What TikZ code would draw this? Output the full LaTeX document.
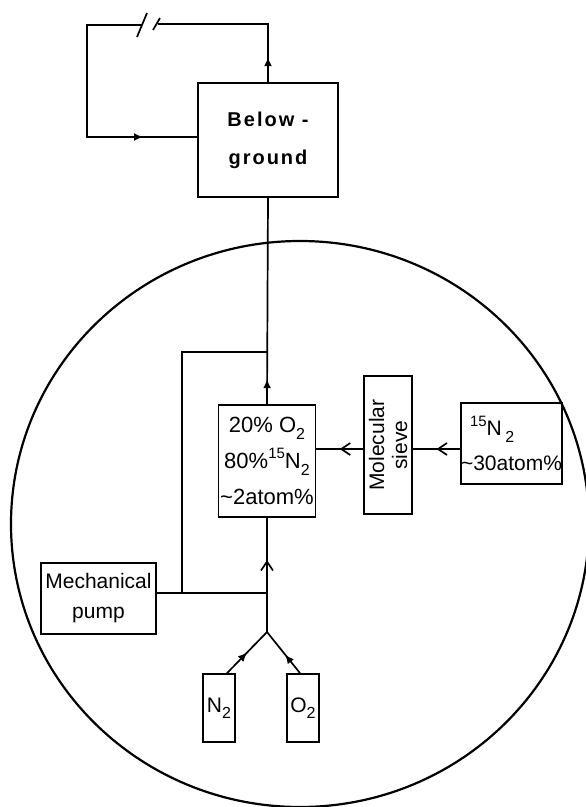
\documentclass[tikz,border=0pt]{standalone}
\usepackage{fontspec}
\setmainfont{Liberation Sans}
\usetikzlibrary{arrows.meta,decorations.markings}
\newcommand\mysub[1]{\raisebox{-0.3em}{\fontsize{16}{16}\selectfont #1}}
\newcommand\mysup[1]{\raisebox{0.45em}{\fontsize{15}{15}\selectfont #1}}
\begin{document}
\begin{tikzpicture}[x=1pt,y=-1pt,
  line width=1.7pt,
  box/.style={draw, rectangle, inner sep=0pt, align=center, font=\fontsize{21}{24}\selectfont},
  fillarrow/.style={postaction={decorate}, decoration={markings, mark=at position #1 with {\arrow{Latex[length=9pt,width=8pt]}}}},
  barbarrow/.style={postaction={decorate}, decoration={markings, mark=at position #1 with {\arrow{Straight Barb[length=9pt,width=12pt,line width=1.7pt]}}}}
]
\clip (0,0) rectangle (586,807);
% circle
\draw[line width=2.2pt] (300,524) ellipse [x radius=289, y radius=283];

% boxes
\node[box, minimum width=140pt, minimum height=114pt,
      font=\fontsize{20}{38}\selectfont\bfseries\addfontfeature{LetterSpace=10}] (bg) at (268,140) {Below -\\ground};
\node[box, minimum width=97pt, minimum height=112pt,
      font=\fontsize{22}{36}\selectfont] (mix) at (267,461)
      {20\% O\mysub{2}\\80\%\mysup{15}N\mysub{2}\\\textasciitilde2atom\%};
\node[box, rotate=90, minimum width=138pt, minimum height=48pt,
      font=\fontsize{21}{23}\selectfont] (sieve) at (388,445) {Molecular\\sieve};
\node[box, minimum width=95pt, minimum height=81pt, align=left,
      font=\fontsize{21}{35}\selectfont] (n15) at (511.5,443.5)
      {\hspace*{9pt}\mysup{15}N\,\mysub{2}\\\textasciitilde30atom\%};
\node[box, minimum width=115pt, minimum height=71pt,
      font=\fontsize{21}{30}\selectfont] (pump) at (98.5,598.5) {Mechanical\\pump};
\node[box, minimum width=32pt, minimum height=68pt] (n2) at (219,708) {N\mysub{2}};
\node[box, minimum width=32pt, minimum height=68pt] (o2) at (303,708) {O\mysub{2}};

% coordinates
\coordinate (jY) at (267,632);
\coordinate (jH) at (267,593);
\coordinate (pL) at (182,593);
\coordinate (pT) at (182,352);
\coordinate (mT) at (267,352);
\coordinate (ay) at (0,449);
\coordinate (tR) at (268,24);
\coordinate (brkR) at (158,24);
\coordinate (brkL) at (142,25);
\coordinate (tL) at (87,25);
\coordinate (bL) at (87,137);
\coordinate (s1a) at (137,37);
\coordinate (s1b) at (147,13);
\coordinate (s2a) at (153,30);
\coordinate (s2b) at (160,18);

% top loop
\draw[fillarrow=25pt] (bg.north) -- (tR) -- (brkR);
\draw (s1a) -- (s1b);
\draw (s2a) -- (s2b);
\draw[fillarrow=223pt] (brkL) -- (tL) -- (bL) -- (bL -| bg.west);

% main line
\draw[fillarrow=25pt] (mix.north) -- (bg.south);
\draw (pL) -- (pT) -- (mT);
\draw (pump.east |- jH) -- (jH);
\draw[barbarrow=72pt] (jY) -- (mix.south);

% sieve chain
\draw[barbarrow=0.5] (n15.west |- ay) -- (sieve.south |- ay);
\draw[barbarrow=0.5] (sieve.north |- ay) -- (mix.east |- ay);

% cylinders
\draw[fillarrow=0.5] ([xshift=8pt]n2.north) -- (jY);
\draw[fillarrow=0.45] ([xshift=-3pt]o2.north) -- (jY);
\end{tikzpicture}
\end{document}
